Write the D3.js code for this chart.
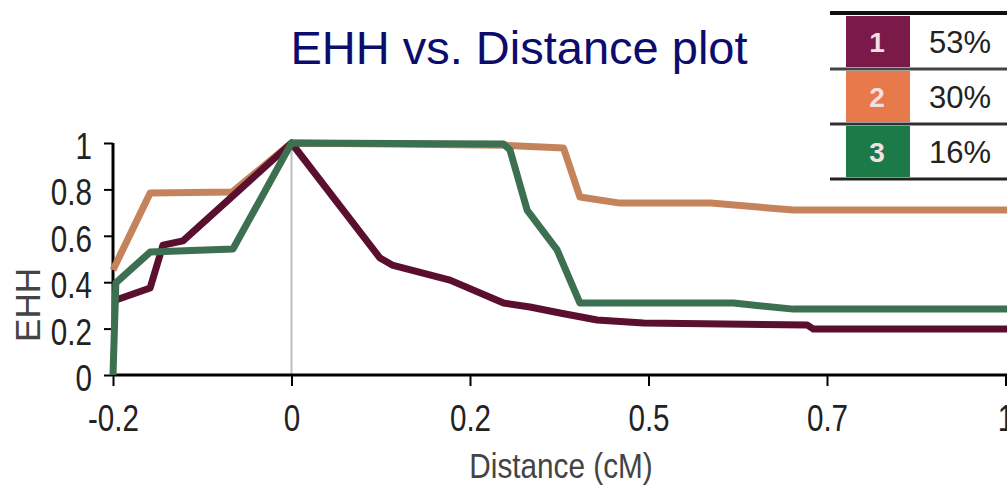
<!DOCTYPE html>
<html>
<head>
<meta charset="utf-8">
<script src="https://cdn.jsdelivr.net/npm/d3@7"></script>
<style>
  html, body { margin: 0; padding: 0; background: #fff; }
  svg { display: block; }
</style>
</head>
<body>
<script>
// Distance (cM) and EHH decay for each of the three core haplotypes
const hap1Distance = [-0.25, -0.246, -0.198, -0.18, -0.152, 0, 0.124, 0.141, 0.222, 0.297, 0.334, 0.376, 0.428, 0.493, 0.722, 0.731, 1.01];
const hap1Ehh      = [0.32, 0.323, 0.375, 0.56, 0.578, 1, 0.504, 0.474, 0.409, 0.31, 0.293, 0.267, 0.237, 0.224, 0.216, 0.198, 0.198];

const hap2Distance = [-0.25, -0.198, -0.083, 0, 0.30, 0.381, 0.404, 0.46, 0.587, 0.703, 1.01];
const hap2Ehh      = [0.453, 0.784, 0.789, 1, 0.99, 0.978, 0.767, 0.741, 0.741, 0.711, 0.711];

const hap3Distance = [-0.25, -0.246, -0.198, -0.082, 0, 0.297, 0.306, 0.33, 0.372, 0.404, 0.619, 0.703, 1.01];
const hap3Ehh      = [0, 0.397, 0.53, 0.543, 1, 0.996, 0.97, 0.711, 0.539, 0.31, 0.31, 0.284, 0.284];

// Axis ticks
const xTickValues = [-0.25, 0, 0.25, 0.5, 0.75, 1];
const xTickLabels = ["-0.2", "0", "0.2", "0.5", "0.7", "1"];
const yTickValues = [0, 0.2, 0.4, 0.6, 0.8, 1];
const yTickLabels = ["0", "0.2", "0.4", "0.6", "0.8", "1"];

// Legend: haplotype ids and their frequencies
const legendIds = ["1", "2", "3"];
const legendShares = ["53%", "30%", "16%"];

const lineColors = ["#5a0f2f", "#c5835c", "#3d6f51"];
const swatchColors = ["#7b1a48", "#e8794b", "#1b7a47"];

const W = 1007, H = 487;
const axisFont = "'Liberation Sans', Arial, sans-serif";
const narrow = 0.8; // horizontal squeeze for the condensed axis lettering

const svg = d3.select("body").append("svg")
  .attr("width", W).attr("height", H);

const x = d3.scaleLinear().domain([-0.25, 1]).range([113, 1005.5]);
const y = d3.scaleLinear().domain([0, 1]).range([375, 143]);

// Title
svg.append("text")
  .attr("x", 519).attr("y", 64)
  .attr("text-anchor", "middle")
  .attr("font-family", "'Liberation Sans', Arial, sans-serif")
  .attr("font-size", 47)
  .attr("fill", "#0c0c6c")
  .text("EHH vs. Distance plot");

// Vertical reference line at the core (distance 0)
svg.append("line")
  .attr("x1", x(0)).attr("x2", x(0))
  .attr("y1", y(1) - 3).attr("y2", y(0))
  .attr("stroke", "#bdbdbd").attr("stroke-width", 2);

// X axis
const xAxis = d3.axisBottom(x)
  .tickValues(xTickValues)
  .tickFormat((d, i) => xTickLabels[i])
  .tickSize(11).tickPadding(19);
const gx = svg.append("g").attr("transform", `translate(0,${y(0)})`).call(xAxis);
gx.select(".domain").attr("stroke", "#000").attr("stroke-width", 3)
  .attr("d", `M${x(-0.25)},0H${W + 5}`);
gx.selectAll(".tick line").attr("stroke", "#000").attr("stroke-width", 2);
gx.selectAll(".tick text")
  .attr("font-family", axisFont).attr("font-size", 37).attr("fill", "#222")
  .attr("transform", `scale(${narrow},1)`);

// Y axis
const yAxis = d3.axisLeft(y)
  .tickValues(yTickValues)
  .tickFormat((d, i) => yTickLabels[i])
  .tickSize(9).tickPadding(5);
const gy = svg.append("g").attr("transform", `translate(${x(-0.25)},0)`).call(yAxis);
gy.select(".domain").attr("stroke", "#000").attr("stroke-width", 3)
  .attr("d", `M0,${y(1)}V${y(0)}`);
gy.selectAll(".tick line").attr("stroke", "#000").attr("stroke-width", 2);
gy.selectAll(".tick text")
  .attr("font-family", axisFont).attr("font-size", 37).attr("fill", "#222")
  .attr("x", 0).attr("dy", "0.42em")
  .attr("transform", `translate(-21,0) scale(${narrow},1)`);

// Axis titles
svg.append("text")
  .attr("transform", `translate(561,478) scale(0.85,1)`)
  .attr("text-anchor", "middle")
  .attr("font-family", axisFont).attr("font-size", 35)
  .attr("fill", "#444")
  .text("Distance (cM)");

svg.append("text")
  .attr("transform", "translate(40,305) rotate(-90)")
  .attr("text-anchor", "middle")
  .attr("font-family", axisFont).attr("font-size", 35)
  .attr("fill", "#444")
  .text("EHH");

// EHH curves
const series = [
  { xs: hap2Distance, ys: hap2Ehh, color: lineColors[1] },
  { xs: hap1Distance, ys: hap1Ehh, color: lineColors[0] },
  { xs: hap3Distance, ys: hap3Ehh, color: lineColors[2] }
];
const line = d3.line().x(d => x(d[0])).y(d => y(d[1]));
series.forEach(s => {
  svg.append("path")
    .datum(s.xs.map((v, i) => [v, s.ys[i]]))
    .attr("d", line)
    .attr("fill", "none")
    .attr("stroke", s.color)
    .attr("stroke-width", 7)
    .attr("stroke-linejoin", "round");
});

// Legend table
const leg = svg.append("g");
const rowTop = [16, 71, 126];
const rowH = 51;
leg.append("rect").attr("x", 830).attr("y", 14).attr("width", W - 830).attr("height", 166).attr("fill", "#fff");
legendIds.forEach((id, i) => {
  leg.append("rect")
    .attr("x", 846).attr("y", rowTop[i])
    .attr("width", 64).attr("height", rowH)
    .attr("fill", swatchColors[i]);
  leg.append("text")
    .attr("x", 877).attr("y", rowTop[i] + rowH / 2 + 10)
    .attr("text-anchor", "middle")
    .attr("font-family", "'Liberation Sans', Arial, sans-serif")
    .attr("font-size", 28).attr("font-weight", "bold")
    .attr("fill", "#f4dfe4")
    .text(id);
  leg.append("text")
    .attr("x", 929).attr("y", rowTop[i] + rowH / 2 + 11)
    .attr("font-family", "'Liberation Sans', Arial, sans-serif")
    .attr("font-size", 31)
    .attr("fill", "#222")
    .text(legendShares[i]);
});
// Rules between legend rows
[[13, 4, "#111"], [69, 3, "#444"], [124, 3, "#333"], [179, 3, "#222"]].forEach(([yy, sw, c]) => {
  leg.append("line")
    .attr("x1", 830).attr("x2", W)
    .attr("y1", yy).attr("y2", yy)
    .attr("stroke", c).attr("stroke-width", sw);
});
</script>
</body>
</html>
